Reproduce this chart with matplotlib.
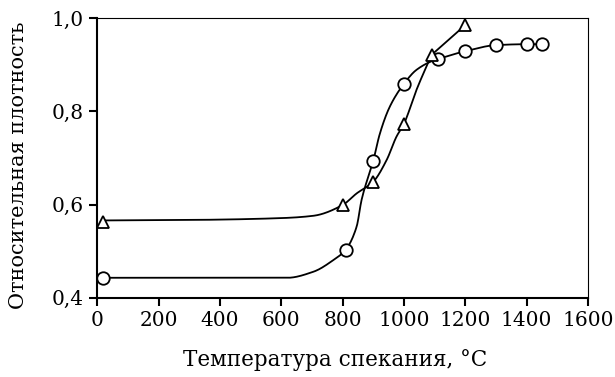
import matplotlib
matplotlib.use("Agg")
import matplotlib.pyplot as plt
from matplotlib.ticker import FuncFormatter
import numpy as np

plt.rcParams["font.family"] = "DejaVu Serif"

# measured points (circles)
t_circ = [20, 810, 900, 1000, 1110, 1200, 1300, 1400, 1450]
d_circ = [0.443, 0.503, 0.694, 0.859, 0.912, 0.929, 0.942, 0.944, 0.944]

# measured points (triangles)
t_tri = [20, 800, 900, 1000, 1090, 1200]
d_tri = [0.563, 0.599, 0.649, 0.773, 0.921, 0.985]

# fitted curves
fit_circ_t = [20, 300, 620, 705, 770, 810, 846, 862, 900, 922, 954, 1000, 1041, 1096, 1110, 1200, 1300, 1400, 1450]
fit_circ_d = [0.443, 0.443, 0.443, 0.456, 0.481, 0.503, 0.553, 0.61, 0.694, 0.753, 0.81, 0.859, 0.889, 0.909, 0.912, 0.929, 0.942, 0.944, 0.944]

# the last triangle segment (1090 -> 1200) is a straight line in the source
fit_tri_t = [20, 300, 600, 705, 800, 846, 900, 944, 976, 1000, 1041, 1090]
fit_tri_d = [0.566, 0.567, 0.571, 0.576, 0.599, 0.624, 0.649, 0.696, 0.746, 0.773, 0.846, 0.921]


def smooth(x, y, n=400):
    # monotone cubic (Fritsch-Carlson) just to draw a smooth line
    x = np.asarray(x, float)
    y = np.asarray(y, float)
    h = np.diff(x)
    delta = np.diff(y) / h
    m = np.zeros_like(y)
    m[0], m[-1] = delta[0], delta[-1]
    for i in range(1, len(x) - 1):
        if delta[i - 1] * delta[i] <= 0:
            m[i] = 0
        else:
            w1 = 2 * h[i] + h[i - 1]
            w2 = h[i] + 2 * h[i - 1]
            m[i] = (w1 + w2) / (w1 / delta[i - 1] + w2 / delta[i])
    xs = np.linspace(x[0], x[-1], n)
    k = np.clip(np.searchsorted(x, xs) - 1, 0, len(x) - 2)
    t = (xs - x[k]) / h[k]
    h00 = 2 * t**3 - 3 * t**2 + 1
    h10 = t**3 - 2 * t**2 + t
    h01 = -2 * t**3 + 3 * t**2
    h11 = t**3 - t**2
    ys = h00 * y[k] + h10 * h[k] * m[k] + h01 * y[k + 1] + h11 * h[k] * m[k + 1]
    return xs, ys


fig = plt.figure(figsize=(6.15, 3.77), dpi=100)
ax = fig.add_axes([0.158, 0.21, 0.798, 0.742])

xs, ys = smooth(fit_circ_t, fit_circ_d)
ax.plot(xs, ys, color="black", lw=1.3, zorder=2)
xs, ys = smooth(fit_tri_t, fit_tri_d)
ax.plot(xs, ys, color="black", lw=1.3, zorder=2)
ax.plot(t_tri[-2:], d_tri[-2:], color="black", lw=1.3, zorder=2)

ax.plot(t_circ, d_circ, "o", ms=9, mfc="white", mec="black", mew=1.3, zorder=3)
ax.plot(t_tri, d_tri, "^", ms=8, mfc="white", mec="black", mew=1.3, zorder=3)

ax.set_xlim(0, 1600)
ax.set_ylim(0.4, 1.0)
ax.set_xticks(np.arange(0, 1601, 200))
ax.set_yticks([0.4, 0.6, 0.8, 1.0])
ax.yaxis.set_major_formatter(FuncFormatter(lambda v, p: f"{v:.1f}".replace(".", ",")))
ax.tick_params(direction="out", length=6, width=1.5, labelsize=14.5)

for side in ["left", "bottom"]:
    ax.spines[side].set_linewidth(1.5)
for side in ["top", "right"]:
    ax.spines[side].set_linewidth(0.8)

ax.set_xlabel("Температура спекания, °C", fontsize=15.5, labelpad=14)
ax.xaxis.label.set_x(0.485)
ax.set_ylabel("Относительная плотность", fontsize=15, labelpad=17)
ax.yaxis.label.set_y(0.475)

fig.savefig("out.png", dpi=100)
plt.close(fig)
